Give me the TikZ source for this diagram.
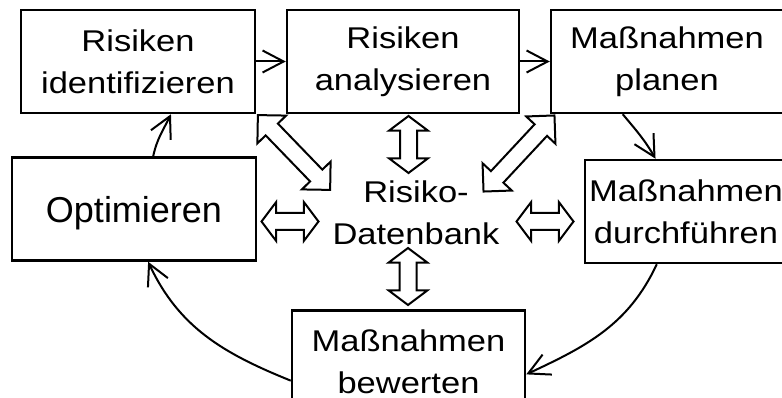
\documentclass[tikz,border=0pt]{standalone}
\usepackage{fontspec}
\setmainfont{Liberation Sans}[FakeStretch=1.15]
\newfontfamily\plainsans{Liberation Sans}
\usetikzlibrary{arrows.meta,shapes.arrows}

\begin{document}
\begin{tikzpicture}[x=1pt,y=1pt,
  box/.style={draw,line width=2.5pt,align=center,inner sep=0pt,minimum height=103pt,font=\fontsize{30}{42}\selectfont},
  dbarrow/.style={double arrow,draw,line width=2pt,inner xsep=0pt,inner ysep=7.5pt,double arrow head extend=11pt,double arrow tip angle=106,minimum height=57pt},
  dbdiag/.style={dbarrow,double arrow tip angle=90,double arrow head extend=11.5pt,minimum height=104pt},
  flow/.style={-{Straight Barb[length=21pt,width=22pt]},line width=2pt}]

\useasboundingbox (0,0) rectangle (782,-398);

% Process boxes
\node[box,minimum width=234pt] (ident)  at (138,-61.5)  {Risiken\\identifizieren};
\node[box,minimum width=232pt] (analyse) at (403,-61.5) {Risiken\\analysieren};
\node[box,minimum width=232pt] (planen) at (667,-61.5)  {Maßnahmen\\planen};
\node[box,minimum width=202pt] (durchf) at (686,-211.5) {Maßnahmen\\durchführen};
\node[box,minimum width=233pt] (bewert) at (408.5,-362) {Maßnahmen\\bewerten};
\node[box,minimum width=244pt,font=\plainsans\fontsize{36}{42}\selectfont,text height=28pt,text depth=0pt] (optim) at (134,-209) {Optimieren};

% Database in the middle
\node[align=center,inner sep=0pt,font=\fontsize{30}{42}\selectfont] (db) at (416,-213) {Risiko-\\Datenbank};

% Cycle
\draw[flow] (ident) -- (analyse);
\draw[flow] (analyse) -- (planen);
\draw[flow] (planen.230) to[out=-50,in=120] (durchf.120);
\draw[flow] (durchf.241) to[out=-115,in=25] (bewert.354);
\draw[flow] (bewert.189) to[out=158,in=-65] (optim.285);
\draw[flow] (optim.70) to[out=78,in=-116] (ident.302);

% Links to the database
\node[dbarrow,rotate=90] (dbup)    at (408.5,-144.5) {};
\node[dbarrow,rotate=90] (dbdown)  at (408,-276.5)   {};
\node[dbarrow]           (dbleft)  at (290,-221.5)   {};
\node[dbarrow]           (dbright) at (545,-221.5)   {};
\node[dbdiag,rotate=-46] (dbul)    at (294,-152.5)   {};
\node[dbdiag,rotate=47]  (dbur)    at (519,-153.5)   {};

\end{tikzpicture}
\end{document}
